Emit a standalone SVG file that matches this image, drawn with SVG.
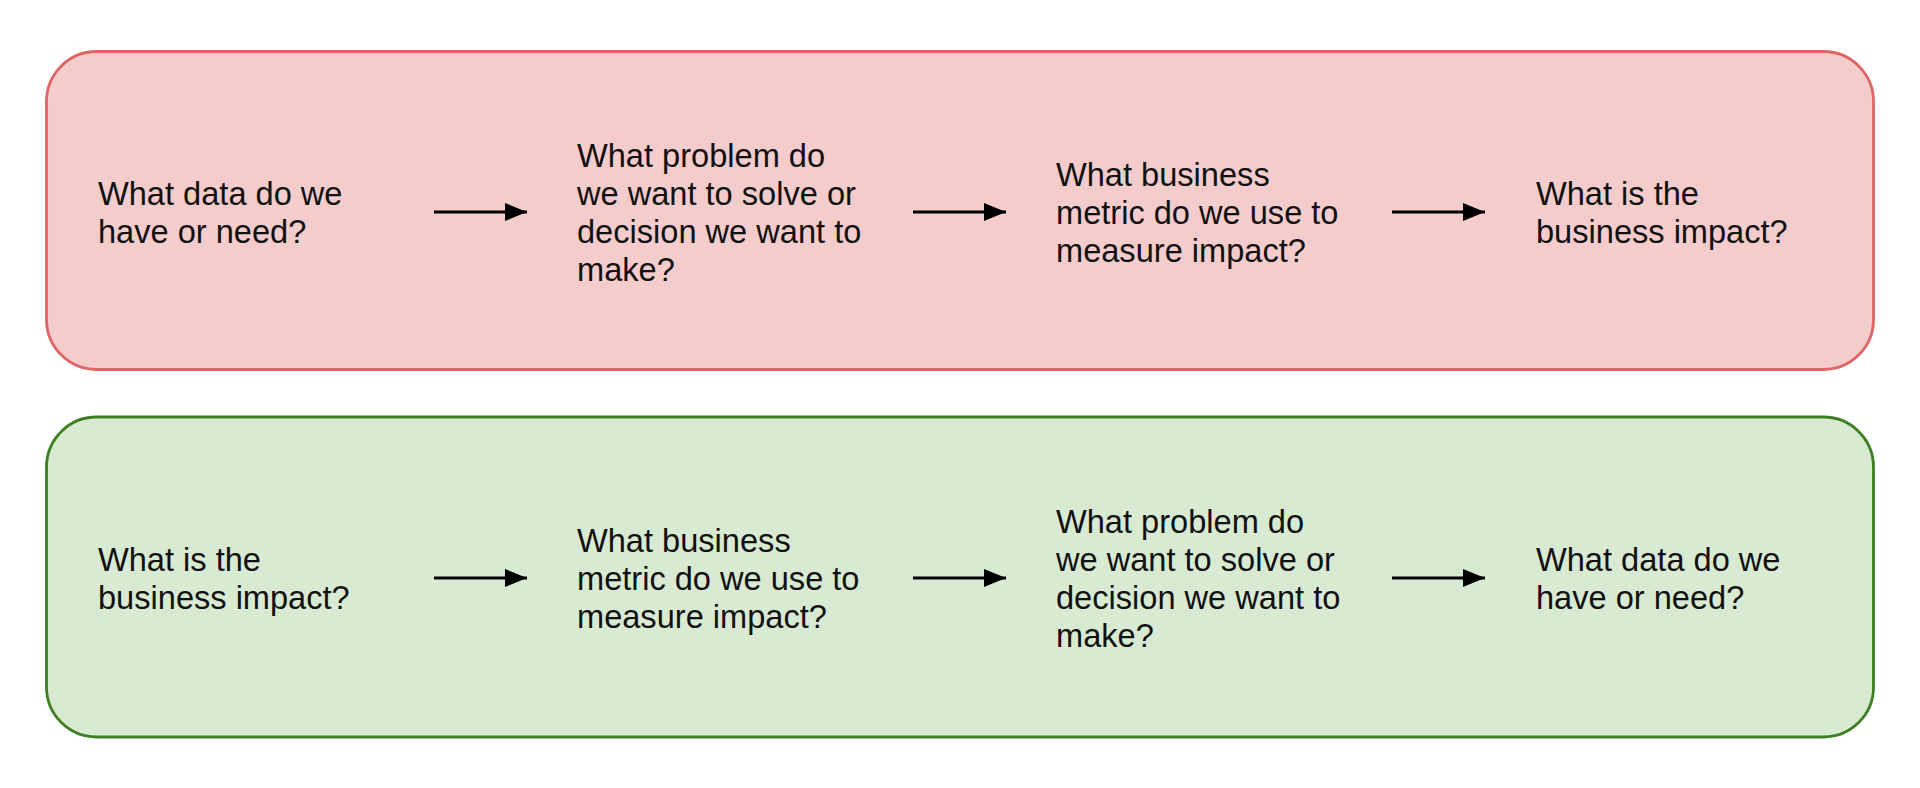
<svg xmlns="http://www.w3.org/2000/svg" width="1920" height="788" viewBox="0 0 1920 788">
<defs>
<marker id="ah" markerWidth="22" markerHeight="18" refX="22" refY="9" orient="auto" markerUnits="userSpaceOnUse">
<path d="M0,0 L22,9 L0,18 Z" fill="#000"/>
</marker>
<style>
.t{font-family:"Liberation Sans",Arial,sans-serif;font-size:32.6px;fill:#111}
.red{fill:#f4cccc;stroke:#e06666;stroke-width:2.8}
.green{fill:#d9ead3;stroke:#3d7f22;stroke-width:2.8}
.c{stroke:#000;stroke-width:2.8;fill:none;marker-end:url(#ah)}
</style>
</defs>
<rect width="1920" height="788" fill="#fff"/>
<g id="top-panel"><rect class="red" x="46.5" y="51.5" width="1827" height="318" rx="50" ry="50"/></g>
<g id="bottom-panel"><rect class="green" x="46.5" y="417" width="1827" height="320" rx="50" ry="50"/></g>
<g id="t1"><text class="t"><tspan x="98" y="204.5">What data do we</tspan><tspan x="98" y="242.5">have or need?</tspan></text></g>
<g id="t2"><text class="t"><tspan x="577" y="166.5">What problem do</tspan><tspan x="577" y="204.5">we want to solve or</tspan><tspan x="577" y="242.5">decision we want to</tspan><tspan x="577" y="280.5">make?</tspan></text></g>
<g id="t3"><text class="t"><tspan x="1056" y="185.5">What business</tspan><tspan x="1056" y="223.5">metric do we use to</tspan><tspan x="1056" y="261.5">measure impact?</tspan></text></g>
<g id="t4"><text class="t"><tspan x="1536" y="204.5">What is the</tspan><tspan x="1536" y="242.5">business impact?</tspan></text></g>
<g id="b1"><text class="t"><tspan x="98" y="570.5">What is the</tspan><tspan x="98" y="608.5">business impact?</tspan></text></g>
<g id="b2"><text class="t"><tspan x="577" y="551.5">What business</tspan><tspan x="577" y="589.5">metric do we use to</tspan><tspan x="577" y="627.5">measure impact?</tspan></text></g>
<g id="b3"><text class="t"><tspan x="1056" y="532.5">What problem do</tspan><tspan x="1056" y="570.5">we want to solve or</tspan><tspan x="1056" y="608.5">decision we want to</tspan><tspan x="1056" y="646.5">make?</tspan></text></g>
<g id="b4"><text class="t"><tspan x="1536" y="570.5">What data do we</tspan><tspan x="1536" y="608.5">have or need?</tspan></text></g>
<g id="connectors">
<line class="c" x1="434" y1="212" x2="527" y2="212"/>
<line class="c" x1="913" y1="212" x2="1006" y2="212"/>
<line class="c" x1="1392" y1="212" x2="1485" y2="212"/>
<line class="c" x1="434" y1="578" x2="527" y2="578"/>
<line class="c" x1="913" y1="578" x2="1006" y2="578"/>
<line class="c" x1="1392" y1="578" x2="1485" y2="578"/>
</g>
</svg>
